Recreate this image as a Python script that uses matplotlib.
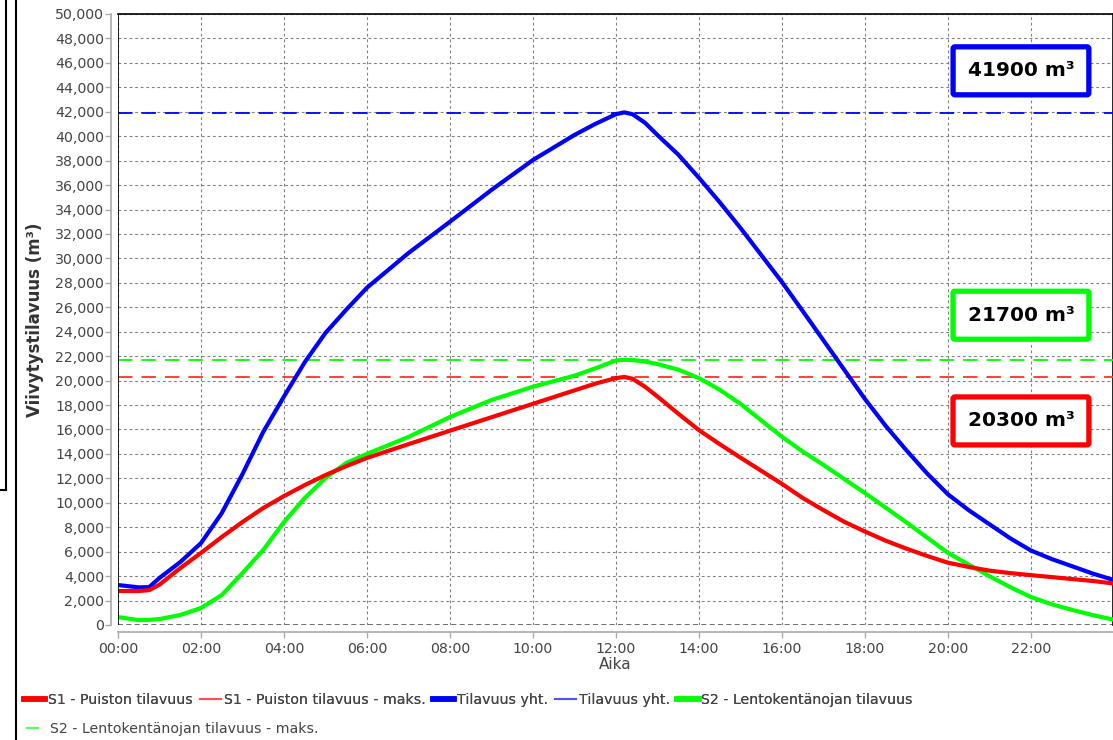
import matplotlib
matplotlib.use("Agg")
import matplotlib.pyplot as plt
from matplotlib.lines import Line2D
from matplotlib.ticker import FuncFormatter, MultipleLocator

# time in hours
hours = [0, 0.5, 0.75, 1, 1.5, 2, 2.5, 3, 3.5, 4, 4.5, 5, 5.5, 6, 7, 8, 9, 10, 11,
         11.5, 12, 12.2, 12.4, 12.7, 13, 13.5, 14, 14.5, 15, 16, 16.5, 17, 17.5, 18, 18.5,
         19, 19.5, 20, 20.5, 21, 21.5, 22, 22.5, 23, 23.5, 23.98]

total = [3270, 3080, 3100, 3850, 5150, 6700, 9150, 12350, 15800, 18700, 21500, 23900,
         25800, 27600, 30440, 33000, 35600, 38050, 40100,
         41000, 41800, 41950, 41800, 41100, 40100, 38500, 36600, 34600, 32500, 28070,
         25700, 23300, 20900, 18500, 16300,
         14300, 12400, 10700, 9400, 8250, 7100, 6100, 5400, 4800, 4200, 3700]

s1_park = [2780, 2780, 2850, 3300, 4650, 5900, 7200, 8430, 9570, 10550, 11450, 12270,
           13000, 13670, 14800, 15900, 17000, 18100, 19200,
           19750, 20200, 20300, 20150, 19500, 18700, 17300, 15950, 14800, 13700, 11550,
           10400, 9400, 8450, 7650, 6900,
           6250, 5650, 5100, 4750, 4450, 4250, 4080, 3920, 3760, 3600, 3400]

s2_ditch = [650, 400, 420, 490, 820, 1390, 2450, 4250, 6140, 8430, 10390, 12030,
            13260, 14000, 15390, 17020, 18410, 19500, 20400,
            21000, 21650, 21700, 21690, 21550, 21350, 20900, 20200, 19250, 18100, 15400,
            14200, 13100, 11950, 10800, 9600,
            8400, 7150, 5900, 4950, 4000, 3100, 2290, 1700, 1230, 800, 450]

max_s1 = 20300
max_total = 41900
max_s2 = 21700

RED = "#ff0000"
BLUE = "#0000ff"
GREEN = "#00ff00"
TXT = "#444444"

fig = plt.figure(figsize=(11.13, 7.40), dpi=100)
ax = fig.add_axes([118 / 1113, 1 - 625 / 740, 1 - 118 / 1113, (625 - 14) / 740])
ax.set_axisbelow(True)

ax.plot(hours, total, color=BLUE, lw=3.0, solid_capstyle="round", solid_joinstyle="round", zorder=4)
ax.plot(hours, s2_ditch, color=GREEN, lw=3.0, solid_capstyle="round", solid_joinstyle="round", zorder=4)
ax.plot(hours, s1_park, color=RED, lw=3.0, solid_capstyle="round", solid_joinstyle="round", zorder=5)

dash = (0, (8, 5))
ax.axhline(max_total, color=BLUE, lw=1.3, ls=dash, zorder=3)
ax.axhline(max_s2, color=GREEN, lw=1.3, ls=dash, zorder=3)
ax.axhline(max_s1, color="#ff3030", lw=1.3, ls=dash, zorder=3)

ax.set_xlim(0, 23.98)
ax.set_ylim(0, 50000)
ax.xaxis.set_major_locator(MultipleLocator(2))
ax.yaxis.set_major_locator(MultipleLocator(2000))
ax.xaxis.set_major_formatter(FuncFormatter(lambda v, p: f"{int(v):02d}:00"))
ax.yaxis.set_major_formatter(FuncFormatter(lambda v, p: f"{int(v):,}"))

ax.grid(True, color="#808080", lw=0.8, ls=(0, (2.5, 2.5)))
for s in ["top", "right"]:
    ax.spines[s].set_color("black")
    ax.spines[s].set_linewidth(1.2)
for s in ["left", "bottom"]:
    ax.spines[s].set_position(("outward", 5))
    ax.spines[s].set_color("#aaaaaa")
    ax.spines[s].set_linewidth(1.2)
# black plot outline on the left, dark zero line at the bottom
ax.axvline(0, color="black", lw=1.2, zorder=6)
ax.axhline(0, color="#555555", lw=1.2, ls=(0, (3, 2)), zorder=2)

ax.tick_params(colors="#aaaaaa", labelcolor=TXT, length=4, width=1, labelsize=10.2)
ax.tick_params(axis="y", pad=1)
ax.tick_params(axis="x", pad=3)
ax.set_xlabel("Aika", fontsize=11, color=TXT, labelpad=1)
ax.set_ylabel("Viivytystilavuus (m³)", fontsize=12, fontweight="bold", color="#333333",
              labelpad=8)

boxes = [(f"{max_total} m³", BLUE, 0.907), (f"{max_s2} m³", GREEN, 0.507),
         (f"{max_s1} m³", RED, 0.334)]
for txt, col, yy in boxes:
    ax.text(0.9075, yy, txt, transform=ax.transAxes, ha="center", va="center",
            fontsize=14.5, fontweight="bold", color="black", zorder=10,
            bbox=dict(boxstyle="round,pad=0.72,rounding_size=0.1", fc="white", ec=col, lw=3.8))

# left-side frame remnants
fig.add_artist(Line2D([6 / 1113, 6 / 1113], [1, 1 - 490 / 740], color="black", lw=1.5))
fig.add_artist(Line2D([0, 6 / 1113], [1 - 490 / 740, 1 - 490 / 740], color="black", lw=1.5))
fig.add_artist(Line2D([16 / 1113, 16 / 1113], [0, 1], color="black", lw=1.5))

h1 = [Line2D([], [], color=RED, lw=4),
      Line2D([], [], color="#ff5050", lw=1.5),
      Line2D([], [], color=BLUE, lw=4),
      Line2D([], [], color="#5050ff", lw=1.5),
      Line2D([], [], color=GREEN, lw=4)]
l1 = ["S1 - Puiston tilavuus", "S1 - Puiston tilavuus - maks.", "Tilavuus yht.",
      "Tilavuus yht.", "S2 - Lentokentänojan tilavuus"]
leg1 = fig.legend(h1, l1, loc="center left", bbox_to_anchor=(17 / 1113, 1 - 700 / 740),
                  ncol=5, frameon=False, fontsize=10.2, handlelength=1.5, handletextpad=0.2,
                  columnspacing=0.5, borderpad=0, labelcolor=TXT)
fig.add_artist(leg1)
fig.legend([Line2D([], [], color="#50ff50", lw=1.5)], ["S2 - Lentokentänojan tilavuus - maks."],
           loc="center left", bbox_to_anchor=(20 / 1113, 1 - 729 / 740), frameon=False,
           fontsize=10.2, handlelength=0.8, handletextpad=0.8, borderpad=0, labelcolor=TXT)

fig.savefig("out.png", dpi=100)
